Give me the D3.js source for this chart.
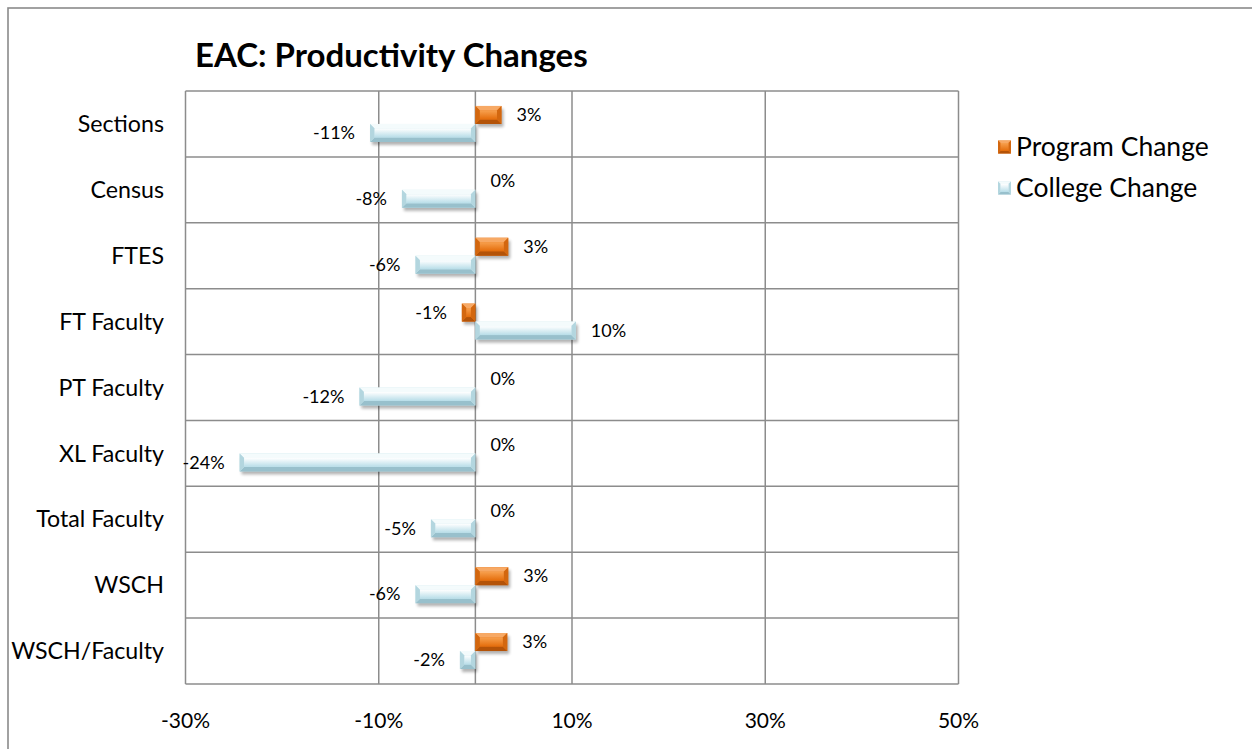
<!DOCTYPE html>
<html><head><meta charset="utf-8">
<script src="https://cdn.jsdelivr.net/npm/d3@7"></script>
<style>
html,body{margin:0;padding:0;background:#fff;}
svg{display:block;font-family:Lato,"Open Sans",sans-serif;}
</style></head>
<body>
<svg id="chart" width="1252" height="749"></svg>
<script>
const categories = ["Sections","Census","FTES","FT Faculty","PT Faculty","XL Faculty","Total Faculty","WSCH","WSCH/Faculty"];
const programChange = [0.027, 0, 0.034, -0.014, 0, 0, 0, 0.034, 0.033];
const collegeChange = [-0.109, -0.076, -0.062, 0.104, -0.120, -0.244, -0.046, -0.062, -0.016];
const seriesNames = ["Program Change","College Change"];
const xTicks = [-0.3, -0.1, 0.1, 0.3, 0.5];
const titleText = "EAC: Productivity Changes";

const svg = d3.select("#chart");
const W = 1252, H = 749;
const plot = {left:185.5, right:958.5, top:91, bottom:684};

const locale = d3.formatLocale({decimal:".",thousands:",",grouping:[3],currency:["$",""],minus:"-",percent:"%"});
const fmt = locale.format(".0%");

const x = d3.scaleLinear().domain([-0.3,0.5]).range([plot.left, plot.right]);
const y = d3.scaleBand().domain(categories).range([plot.top, plot.bottom]).padding(0);
const step = y.step();
const sub = d3.scaleBand().domain(seriesNames).range([0, step]).paddingInner(0).paddingOuter(0.83);

const defs = svg.append("defs");
const f = defs.append("filter").attr("id","shadow").attr("x","-20%").attr("y","-50%").attr("width","140%").attr("height","200%");
f.append("feGaussianBlur").attr("stdDeviation",1.6);

const styles = {
  "Program Change": {base:"#e8761a", top:"#f7a965", bottom:"#b45308", side:"#d3670f", c0:"#f7a04e", c1:"#e46c0a"},
  "College Change": {base:"#cde7ee", top:"#f4fbfc", bottom:"#98c0cc", side:"#b3d6df", c0:"#ffffff", c1:"#b7dde8"}
};
seriesNames.forEach((s,i)=>{
  const st = styles[s];
  const g = defs.append("linearGradient").attr("id","grad"+i).attr("x1",0).attr("y1",0).attr("x2",0).attr("y2",1);
  g.append("stop").attr("offset","0%").attr("stop-color",st.c0);
  g.append("stop").attr("offset","100%").attr("stop-color",st.c1);
});

// outer border
svg.append("rect").attr("x",8).attr("y",8).attr("width",W+20).attr("height",H+20)
  .attr("fill","none").attr("stroke","#8a8a8a").attr("stroke-width",1.6);

// title
svg.append("text").attr("x",195).attr("y",67).attr("font-size",33).attr("font-weight","bold")
  .attr("fill","#000").text(titleText);

// gridlines
const grid = svg.append("g").attr("stroke","#8c8c8c").attr("stroke-width",1.5).attr("fill","none");
xTicks.forEach(t=>{
  grid.append("line").attr("x1",x(t)).attr("x2",x(t)).attr("y1",plot.top).attr("y2",plot.bottom);
});
categories.forEach((c,i)=>{
  grid.append("line").attr("x1",plot.left).attr("x2",plot.right).attr("y1",y(c)).attr("y2",y(c));
});
grid.append("line").attr("x1",plot.left).attr("x2",plot.right).attr("y1",plot.bottom).attr("y2",plot.bottom);
grid.append("line").attr("x1",x(0)).attr("x2",x(0)).attr("y1",plot.top).attr("y2",plot.bottom);

// x tick labels
svg.append("g").selectAll("text").data(xTicks).join("text")
  .attr("x",d=>x(d)).attr("y",728).attr("text-anchor","middle").attr("font-size",21).attr("fill","#000")
  .text(d=>fmt(d));

// category labels
svg.append("g").selectAll("text").data(categories).join("text")
  .attr("x",164).attr("y",d=>y(d)+step/2).attr("dy","0.35em").attr("text-anchor","end")
  .attr("font-size",23.2).attr("fill","#000").text(d=>d);

function bevelBar(g, x0, x1, y0, y1, st, gi, bev, shadow){
  const w = x1-x0, h = y1-y0;
  if (w <= 0.01) return;
  const b = Math.min(bev, w/2, h/2);
  if (shadow) g.append("rect").attr("x",x0+2).attr("y",y0+3).attr("width",w).attr("height",h)
    .attr("fill","#000").attr("opacity",0.3).attr("filter","url(#shadow)");
  g.append("rect").attr("x",x0).attr("y",y0).attr("width",w).attr("height",h).attr("fill",st.base);
  const P = pts => pts.map(p=>p.join(",")).join(" ");
  g.append("polygon").attr("points",P([[x0,y0],[x1,y0],[x1-b,y0+b],[x0+b,y0+b]])).attr("fill",st.top);
  g.append("polygon").attr("points",P([[x0,y1],[x1,y1],[x1-b,y1-b],[x0+b,y1-b]])).attr("fill",st.bottom);
  g.append("polygon").attr("points",P([[x0,y0],[x0+b,y0+b],[x0+b,y1-b],[x0,y1]])).attr("fill",st.side);
  g.append("polygon").attr("points",P([[x1,y0],[x1-b,y0+b],[x1-b,y1-b],[x1,y1]])).attr("fill",st.side);
  g.append("rect").attr("x",x0+b).attr("y",y0+b).attr("width",Math.max(0,w-2*b)).attr("height",Math.max(0,h-2*b))
    .attr("fill","url(#grad"+gi+")");
}

const series = [programChange, collegeChange];
const barsG = svg.append("g");
const labelsG = svg.append("g").attr("font-size",18).attr("fill","#000");
seriesNames.forEach((s,si)=>{
  const vals = series[si];
  categories.forEach((c,i)=>{
    const v = vals[i];
    const y0 = y(c) + sub(s), y1 = y0 + sub.bandwidth();
    const xa = x(Math.min(0,v)), xb = x(Math.max(0,v));
    bevelBar(barsG.append("g"), xa, xb, y0, y1, styles[s], si, 4.5, true);
    const pad = 15;
    labelsG.append("text")
      .attr("x", v < 0 ? xa - pad : xb + pad)
      .attr("y", (y0+y1)/2).attr("dy","0.35em")
      .attr("text-anchor", v < 0 ? "end" : "start")
      .text(fmt(v));
  });
});

// legend
const lg = svg.append("g");
seriesNames.forEach((s,i)=>{
  const ly = 147 + i*41;
  bevelBar(lg.append("g"), 998, 1011, ly-6.5, ly+6.5, styles[s], i, 2.5, false);
  lg.append("text").attr("x",1016).attr("y",ly).attr("dy","0.35em").attr("font-size",26.5).attr("fill","#000").text(s);
});
</script>
</body></html>
